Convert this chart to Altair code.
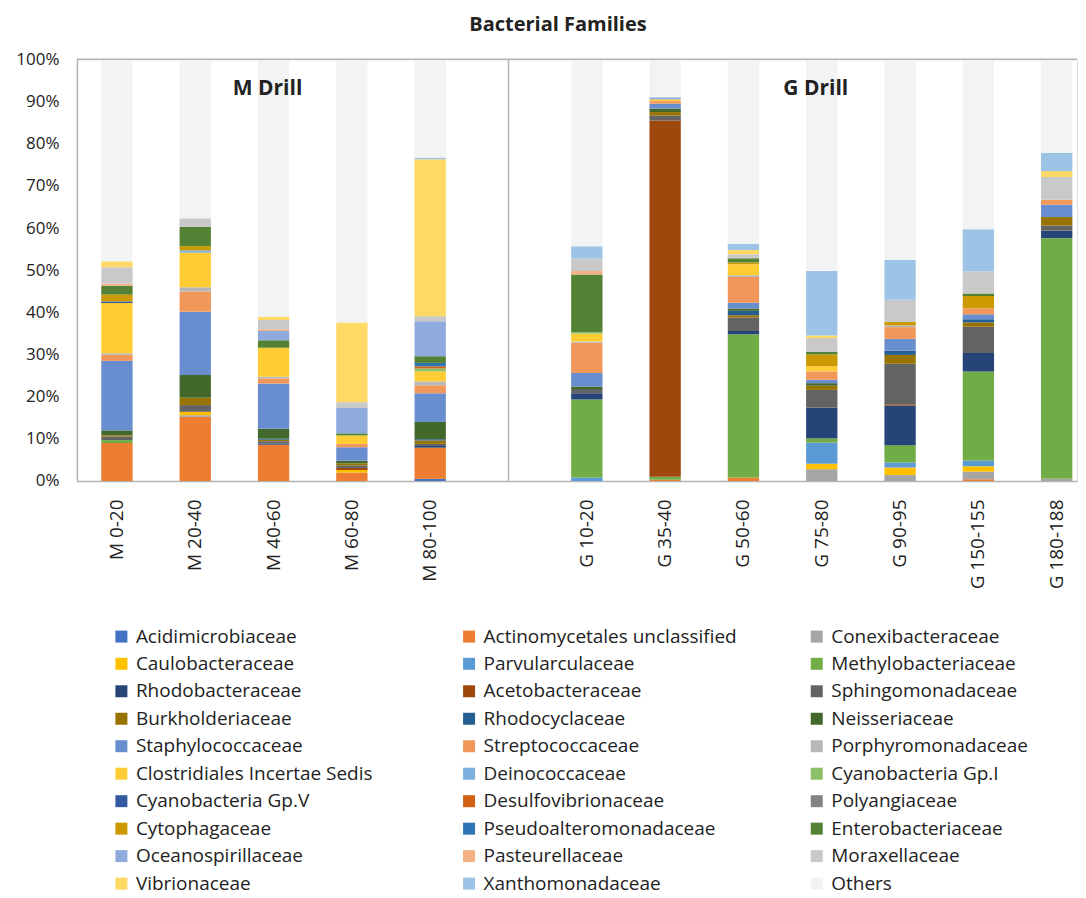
import altair as alt
import pandas as pd

samples = ["M 0-20", "M 20-40", "M 40-60", "M 60-80", "M 80-100", " ",
           "G 10-20", "G 35-40", "G 50-60", "G 75-80", "G 90-95", "G 150-155", "G 180-188"]

families = [
    "Acidimicrobiaceae", "Actinomycetales unclassified", "Conexibacteraceae",
    "Caulobacteraceae", "Parvularculaceae", "Methylobacteriaceae",
    "Rhodobacteraceae", "Acetobacteraceae", "Sphingomonadaceae",
    "Burkholderiaceae", "Rhodocyclaceae", "Neisseriaceae",
    "Staphylococcaceae", "Streptococcaceae", "Porphyromonadaceae",
    "Clostridiales Incertae Sedis", "Deinococcaceae", "Cyanobacteria Gp.I",
    "Cyanobacteria Gp.V", "Desulfovibrionaceae", "Polyangiaceae",
    "Cytophagaceae", "Pseudoalteromonadaceae", "Enterobacteriaceae",
    "Oceanospirillaceae", "Pasteurellaceae", "Moraxellaceae",
    "Vibrionaceae", "Xanthomonadaceae", "Others",
]

colors = [
    "#4472C4", "#ED7D31", "#A5A5A5", "#FFC000", "#5B9BD5", "#70AD47",
    "#264478", "#9E480E", "#636363", "#997300", "#255E91", "#43682B",
    "#698ED0", "#F1975A", "#B7B7B7", "#FFCD33", "#7CAFDD", "#8CC168",
    "#335AA1", "#D26012", "#848484", "#CC9A00", "#2E75B6", "#548235",
    "#8FAADC", "#F4B183", "#C9C9C9", "#FFD966", "#9DC3E6", "#F2F3F5",
]

# percentages per sample, in the order of `families`
m_0_20 = [0, 9.0, 0, 0, 0, 0.7, 0, 0, 0.8, 0.3, 0, 1.2, 16.5, 1.4, 0.4, 11.9, 0, 0,
          0.4, 0, 0, 1.6, 0, 2.1, 0, 0.5, 3.9, 1.4, 0, 47.9]
m_20_40 = [0, 15.2, 0.4, 0.8, 0, 0, 0, 0, 1.6, 1.75, 0, 5.4, 15.0, 4.8, 1.0, 8.2, 0.55, 0,
           0, 0, 0, 1.0, 0, 4.6, 0, 0, 2.0, 0, 0, 37.7]
m_40_60 = [0, 8.6, 0, 0, 0, 0, 0.3, 0, 0.5, 0.4, 0.2, 2.4, 10.7, 1.2, 0.4, 6.9, 0, 0,
           0, 0, 0, 0, 0, 1.75, 2.2, 0.4, 2.2, 0.8, 0, 61.0]
m_60_80 = [0, 2.0, 0, 0.6, 0, 0, 0, 0.5, 0.6, 0.5, 0, 0.6, 3.2, 0.8, 0, 2.0, 0, 0,
           0, 0, 0, 0, 0, 0.5, 6.0, 0, 1.4, 18.9, 0, 62.4]
m_80_100 = [0.5, 7.4, 0, 0, 0, 0, 0.4, 0, 0.5, 0.8, 0.3, 4.1, 6.8, 1.9, 0.9, 2.4, 0, 0.7,
            0, 0.5, 0, 0, 0.8, 1.6, 8.3, 0, 1.2, 37.2, 0.4, 23.3]
g_10_20 = [0, 0, 0, 0, 0.8, 18.5, 1.5, 0, 1.0, 0, 0, 0.6, 3.2, 7.2, 0.3, 1.8, 0, 0.4,
           0, 0, 0, 0, 0, 13.7, 0, 0.8, 3.0, 0, 2.9, 44.3]
g_35_40 = [0, 0.3, 0, 0, 0, 0.7, 0, 84.5, 1.2, 0.8, 0, 0.8, 1.2, 0.6, 0, 0.4, 0, 0,
           0, 0, 0, 0, 0, 0, 0.5, 0, 0, 0, 0, 9.0]
g_50_60 = [0, 0.8, 0, 0, 0, 34.0, 0.8, 0, 3.2, 0.5, 1.1, 0.5, 1.4, 6.1, 0.4, 2.6, 0, 0,
           0, 0, 0, 0.4, 0, 1.0, 0, 0, 1.0, 1.0, 1.4, 43.8]
g_75_80 = [0, 0, 2.8, 1.3, 5.0, 1.0, 7.3, 0, 4.2, 1.0, 0, 0.6, 0.8, 2.0, 0, 1.2, 0, 0,
           0, 0, 0, 2.8, 0, 0.6, 0, 0, 3.3, 0.6, 15.3, 50.2]
g_90_95 = [0, 0, 1.4, 1.8, 1.2, 4.1, 9.4, 0.3, 9.6, 2.1, 1.0, 0, 2.8, 2.8, 0.4, 0, 0, 0,
           0, 0, 0, 0.8, 0, 0, 0, 0, 5.3, 0, 9.4, 47.6]
g_150_155 = [0, 0.4, 1.8, 1.3, 1.35, 21.1, 4.4, 0, 6.2, 1.0, 0.8, 0, 1.2, 1.4, 0, 0, 0, 0,
             0, 0, 0, 2.9, 0, 0.6, 0, 0, 5.2, 0, 10.0, 40.3]
g_180_188 = [0, 0, 0.5, 0, 0, 57.1, 1.8, 0, 1.2, 2.0, 0, 0, 2.9, 1.2, 0, 0, 0, 0,
             0, 0, 0, 0, 0, 0, 0, 0, 5.4, 1.4, 4.3, 22.2]

sample_values = {
    "M 0-20": m_0_20, "M 20-40": m_20_40, "M 40-60": m_40_60,
    "M 60-80": m_60_80, "M 80-100": m_80_100,
    "G 10-20": g_10_20, "G 35-40": g_35_40, "G 50-60": g_50_60,
    "G 75-80": g_75_80, "G 90-95": g_90_95, "G 150-155": g_150_155,
    "G 180-188": g_180_188,
}

rows = []
for s, vals in sample_values.items():
    for i, (fam, v) in enumerate(zip(families, vals)):
        if v > 0:
            rows.append({"sample": s, "family": fam, "value": v, "idx": i})
df = pd.DataFrame(rows)

W, H = 1001, 422
FONT = "Open Sans"
TXT = "#222222"
GRAY = "#B3B3B3"

x_scale = alt.Scale(domain=samples, paddingInner=0.6, paddingOuter=0.185, align=0.84)

bars = alt.Chart(df).mark_bar().encode(
    x=alt.X("sample:N", scale=x_scale,
            axis=alt.Axis(title=None, labelAngle=-90, labelFontSize=19, labelColor=TXT,
                          ticks=False, domainColor=GRAY, domainWidth=1.5, labelPadding=18)),
    y=alt.Y("value:Q", stack="normalize", scale=alt.Scale(domain=[0, 1], nice=False),
            axis=alt.Axis(title=None, format=".0%", values=[i / 10 for i in range(11)],
                          grid=False, ticks=False, labelFontSize=17, labelColor=TXT,
                          domainColor=GRAY, domainWidth=1.5, labelPadding=18, minExtent=69)),
    color=alt.Color("family:N", scale=alt.Scale(domain=families, range=colors),
                    legend=alt.Legend(title=None, orient="none", legendX=35, legendY=568,
                                      direction="horizontal",
                                      columns=3, columnPadding=70, rowPadding=7.5,
                                      symbolType="square", symbolSize=144,
                                      symbolStrokeWidth=0, labelFontSize=19, labelOffset=5,
                                      labelColor=TXT, gridAlign="all", padding=0,
                                      labelLimit=400)),
    order=alt.Order("idx:Q", sort="ascending"),
)

divider = alt.Chart(pd.DataFrame({"sample": [" "]})).mark_rule(
    color=GRAY, strokeWidth=1.5).encode(
    x=alt.X("sample:N"), y=alt.datum(0), y2=alt.datum(1))

top_line = alt.Chart(pd.DataFrame({"top": [1]})).mark_rule(
    color=GRAY, strokeWidth=1.5).encode(
    y=alt.Y("top:Q"), x=alt.value(0), x2=alt.value(W))

drill_df = pd.DataFrame({"label": ["M Drill", "G Drill"],
                         "sample": ["M 40-60", "G 75-80"],
                         "pos": [0.929, 0.929]})
drills = alt.Chart(drill_df).mark_text(
    fontSize=21, fontWeight="bold", color=TXT, dx=-6).encode(
    x=alt.X("sample:N"), y=alt.Y("pos:Q"), text="label:N")

chart = alt.layer(bars, divider, top_line, drills).properties(
    width=W, height=H,
    title=alt.TitleParams("Bacterial Families", fontSize=20, fontWeight="bold",
                          anchor="middle", dx=-19, offset=15, color=TXT, font=FONT),
    padding={"left": 0, "top": 7, "right": 0, "bottom": 8},
).configure_view(stroke=None).configure(font=FONT)

chart.save("out.html", embed_options={"renderer": "svg", "actions": False})
